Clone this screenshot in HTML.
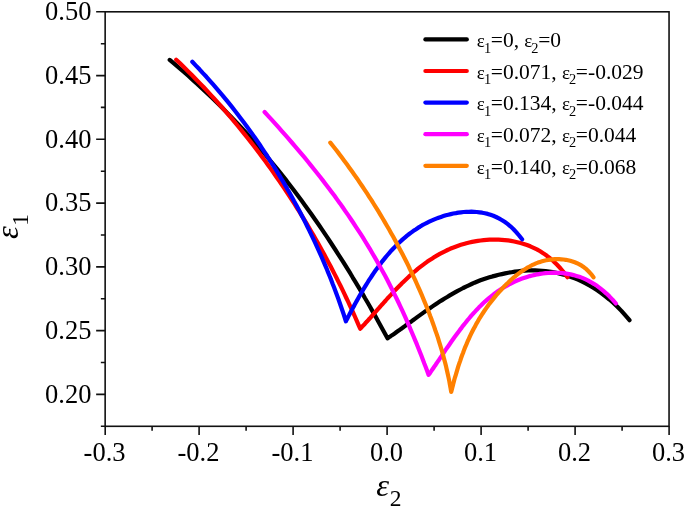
<!DOCTYPE html>
<html><head><meta charset="utf-8"><title>FLD</title>
<style>html,body{margin:0;padding:0;background:#fff}svg{display:block}text{font-family:"Liberation Serif","DejaVu Serif",serif;fill:#000}</style></head><body>
<svg width="685" height="508" viewBox="0 0 685 508">
<rect width="685" height="508" fill="#fff"/>
<g fill="none" stroke-width="4.2" stroke-linecap="round" stroke-linejoin="round">
<path stroke="#000000" d="M169.7,59.9 L174.5,63.9 L179.2,68.0 L183.9,72.0 L188.5,76.0 L193.0,80.1 L197.5,84.1 L201.8,88.1 L206.1,92.2 L210.4,96.2 L214.6,100.2 L218.7,104.3 L222.7,108.3 L226.7,112.4 L230.7,116.4 L234.5,120.4 L238.4,124.5 L242.1,128.5 L245.8,132.5 L249.5,136.6 L253.1,140.6 L256.7,144.6 L260.2,148.7 L263.7,152.7 L267.1,156.7 L270.4,160.8 L273.8,164.8 L277.1,168.8 L280.3,172.9 L283.5,176.9 L286.7,180.9 L289.8,185.0 L292.9,189.0 L295.9,193.0 L298.9,197.1 L301.9,201.1 L304.9,205.2 L307.8,209.2 L310.7,213.2 L313.5,217.3 L316.3,221.3 L319.1,225.3 L321.9,229.4 L324.6,233.4 L327.3,237.4 L330.0,241.5 L332.6,245.5 L335.2,249.5 L337.8,253.6 L340.4,257.6 L343.0,261.6 L345.5,265.7 L348.0,269.7 L350.5,273.7 L352.9,277.8 L355.4,281.8 L357.8,285.8 L360.2,289.9 L362.6,293.9 L364.9,298.0 L367.3,302.0 L369.6,306.0 L371.9,310.1 L374.2,314.1 L376.4,318.1 L378.7,322.2 L380.9,326.2 L383.1,330.2 L385.3,334.3 L387.5,338.3 L387.8,338.1 L388.3,337.8 L389.0,337.3 L389.8,336.8 L390.7,336.1 L391.7,335.4 L392.8,334.7 L394.0,333.9 L395.3,333.0 L396.6,332.0 L398.0,331.0 L399.5,330.0 L401.0,328.9 L402.6,327.8 L404.2,326.6 L405.9,325.3 L407.7,324.1 L409.5,322.7 L411.4,321.4 L413.3,320.0 L415.2,318.6 L417.2,317.1 L419.3,315.6 L421.4,314.1 L423.5,312.6 L425.7,311.1 L427.9,309.5 L430.2,308.0 L432.5,306.4 L434.9,304.8 L437.2,303.2 L439.7,301.6 L442.1,300.1 L444.6,298.5 L447.2,297.0 L449.8,295.4 L452.4,293.9 L455.0,292.4 L457.7,290.9 L460.4,289.5 L463.2,288.0 L466.0,286.6 L468.8,285.3 L471.6,284.0 L474.5,282.7 L477.4,281.5 L480.4,280.3 L483.4,279.2 L486.4,278.2 L489.4,277.3 L492.5,276.4 L495.6,275.6 L498.7,274.8 L501.9,274.1 L505.1,273.4 L508.3,272.7 L511.5,272.2 L514.8,271.7 L518.1,271.3 L521.5,270.9 L524.8,270.7 L528.2,270.5 L531.6,270.4 L535.1,270.4 L538.5,270.6 L542.0,270.8 L545.6,271.1 L549.1,271.5 L552.7,272.1 L556.3,272.8 L559.9,273.7 L563.6,274.6 L567.3,275.8 L571.0,277.0 L574.7,278.4 L578.5,279.9 L582.2,281.7 L586.1,283.6 L589.9,285.7 L593.7,288.0 L597.6,290.5 L601.5,293.3 L605.4,296.3 L609.4,299.5 L613.4,303.0 L617.4,306.8 L621.4,310.9 L625.4,315.4 L629.5,320.2"/>
<path stroke="#ff0000" d="M176.2,59.7 L180.3,63.6 L184.3,67.5 L188.2,71.4 L192.1,75.3 L195.9,79.2 L199.7,83.1 L203.5,87.0 L207.1,90.9 L210.7,94.8 L214.3,98.7 L217.8,102.6 L221.3,106.5 L224.7,110.4 L228.1,114.3 L231.4,118.2 L234.7,122.1 L237.9,126.0 L241.1,129.9 L244.3,133.8 L247.4,137.7 L250.5,141.6 L253.5,145.5 L256.5,149.4 L259.4,153.3 L262.3,157.2 L265.2,161.1 L268.0,165.0 L270.8,168.9 L273.6,172.8 L276.3,176.7 L279.0,180.6 L281.7,184.5 L284.3,188.4 L286.9,192.3 L289.4,196.1 L292.0,200.0 L294.5,203.9 L296.9,207.8 L299.4,211.7 L301.8,215.6 L304.2,219.5 L306.5,223.4 L308.8,227.3 L311.1,231.2 L313.4,235.1 L315.6,239.0 L317.8,242.9 L320.0,246.8 L322.2,250.7 L324.3,254.6 L326.4,258.5 L328.5,262.4 L330.6,266.3 L332.6,270.2 L334.6,274.1 L336.6,278.0 L338.5,281.9 L340.5,285.8 L342.4,289.7 L344.3,293.6 L346.1,297.5 L348.0,301.4 L349.8,305.3 L351.6,309.2 L353.4,313.1 L355.1,317.0 L356.8,320.9 L358.5,324.8 L360.2,328.7 L360.4,328.4 L360.9,328.0 L361.5,327.4 L362.2,326.6 L363.0,325.8 L363.8,324.9 L364.8,323.9 L365.8,322.7 L366.9,321.6 L368.0,320.3 L369.2,319.0 L370.5,317.6 L371.8,316.1 L373.1,314.6 L374.5,313.0 L376.0,311.4 L377.5,309.7 L379.1,307.9 L380.6,306.1 L382.3,304.3 L384.0,302.4 L385.7,300.5 L387.4,298.5 L389.2,296.6 L391.1,294.6 L392.9,292.6 L394.8,290.6 L396.8,288.5 L398.8,286.5 L400.8,284.5 L402.8,282.4 L404.9,280.4 L407.0,278.4 L409.1,276.4 L411.3,274.5 L413.5,272.5 L415.8,270.6 L418.0,268.7 L420.3,266.9 L422.7,265.1 L425.0,263.4 L427.4,261.6 L429.8,260.0 L432.3,258.4 L434.7,256.8 L437.2,255.4 L439.8,253.9 L442.3,252.6 L444.9,251.3 L447.5,250.0 L450.1,248.8 L452.8,247.7 L455.5,246.7 L458.2,245.7 L460.9,244.8 L463.7,244.0 L466.4,243.2 L469.3,242.5 L472.1,241.9 L474.9,241.4 L477.8,240.9 L480.7,240.5 L483.7,240.1 L486.6,239.9 L489.6,239.7 L492.6,239.6 L495.6,239.6 L498.6,239.7 L501.7,239.8 L504.8,240.1 L507.9,240.4 L511.0,240.9 L514.2,241.5 L517.4,242.2 L520.6,243.0 L523.8,243.9 L527.0,245.0 L530.3,246.3 L533.6,247.8 L536.9,249.4 L540.2,251.3 L543.5,253.4 L546.9,255.8 L550.3,258.5 L553.7,261.4 L557.1,264.8 L560.6,268.5 L564.0,272.6 L567.5,277.2"/>
<path stroke="#0000ff" d="M192.3,61.8 L195.9,65.6 L199.5,69.3 L202.9,73.1 L206.4,76.8 L209.7,80.6 L213.1,84.4 L216.3,88.1 L219.5,91.9 L222.7,95.6 L225.8,99.4 L228.9,103.2 L231.9,106.9 L234.9,110.7 L237.8,114.5 L240.6,118.2 L243.5,122.0 L246.3,125.7 L249.0,129.5 L251.7,133.3 L254.4,137.0 L257.0,140.8 L259.6,144.5 L262.1,148.3 L264.6,152.1 L267.1,155.8 L269.5,159.6 L271.9,163.3 L274.3,167.1 L276.6,170.9 L278.9,174.6 L281.1,178.4 L283.4,182.1 L285.6,185.9 L287.7,189.7 L289.9,193.4 L292.0,197.2 L294.0,201.0 L296.1,204.7 L298.1,208.5 L300.1,212.2 L302.0,216.0 L304.0,219.8 L305.9,223.5 L307.7,227.3 L309.6,231.0 L311.4,234.8 L313.2,238.6 L315.0,242.3 L316.7,246.1 L318.4,249.8 L320.1,253.6 L321.8,257.4 L323.4,261.1 L325.0,264.9 L326.6,268.6 L328.1,272.4 L329.7,276.2 L331.2,279.9 L332.6,283.7 L334.1,287.5 L335.5,291.2 L336.9,295.0 L338.3,298.7 L339.6,302.5 L340.9,306.3 L342.2,310.0 L343.5,313.8 L344.7,317.5 L345.9,321.3 L346.1,320.9 L346.5,320.1 L347.0,319.2 L347.6,318.0 L348.2,316.7 L349.0,315.3 L349.8,313.8 L350.6,312.1 L351.6,310.4 L352.5,308.6 L353.6,306.7 L354.6,304.7 L355.7,302.7 L356.9,300.6 L358.1,298.5 L359.3,296.3 L360.6,294.1 L361.9,291.8 L363.3,289.5 L364.7,287.2 L366.1,284.9 L367.6,282.5 L369.0,280.2 L370.6,277.8 L372.1,275.5 L373.7,273.1 L375.3,270.8 L377.0,268.5 L378.7,266.2 L380.4,263.9 L382.1,261.6 L383.9,259.4 L385.7,257.1 L387.5,255.0 L389.4,252.8 L391.2,250.7 L393.1,248.7 L395.1,246.7 L397.0,244.7 L399.0,242.8 L401.0,240.9 L403.0,239.1 L405.1,237.3 L407.1,235.6 L409.2,234.0 L411.4,232.4 L413.5,230.8 L415.7,229.4 L417.9,227.9 L420.1,226.6 L422.3,225.2 L424.6,224.0 L426.9,222.8 L429.2,221.7 L431.5,220.6 L433.8,219.6 L436.2,218.6 L438.6,217.7 L441.0,216.9 L443.4,216.1 L445.9,215.3 L448.3,214.7 L450.8,214.1 L453.3,213.5 L455.9,213.1 L458.4,212.6 L461.0,212.3 L463.6,212.0 L466.2,211.9 L468.8,211.8 L471.4,211.7 L474.1,211.8 L476.8,212.0 L479.5,212.3 L482.2,212.7 L484.9,213.2 L487.7,213.9 L490.5,214.8 L493.3,215.8 L496.1,217.0 L498.9,218.4 L501.7,220.0 L504.6,221.8 L507.5,223.9 L510.4,226.3 L513.3,229.0 L516.2,232.1 L519.1,235.5 L522.1,239.3"/>
<path stroke="#ff00ff" d="M264.6,112.0 L268.1,115.8 L271.6,119.6 L275.0,123.4 L278.4,127.2 L281.8,131.1 L285.2,134.9 L288.5,138.7 L291.8,142.5 L295.1,146.3 L298.3,150.1 L301.5,153.9 L304.7,157.7 L307.8,161.5 L310.9,165.3 L314.0,169.2 L317.0,173.0 L320.0,176.8 L323.0,180.6 L325.9,184.4 L328.8,188.2 L331.6,192.0 L334.5,195.8 L337.2,199.6 L340.0,203.4 L342.7,207.3 L345.3,211.1 L348.0,214.9 L350.6,218.7 L353.1,222.5 L355.6,226.3 L358.1,230.1 L360.6,233.9 L363.0,237.7 L365.3,241.5 L367.7,245.4 L370.0,249.2 L372.2,253.0 L374.5,256.8 L376.7,260.6 L378.8,264.4 L380.9,268.2 L383.0,272.0 L385.1,275.8 L387.1,279.6 L389.1,283.5 L391.0,287.3 L392.9,291.1 L394.8,294.9 L396.7,298.7 L398.5,302.5 L400.3,306.3 L402.1,310.1 L403.8,313.9 L405.5,317.7 L407.2,321.6 L408.9,325.4 L410.5,329.2 L412.1,333.0 L413.7,336.8 L415.3,340.6 L416.9,344.4 L418.4,348.2 L419.9,352.0 L421.4,355.8 L422.9,359.7 L424.3,363.5 L425.8,367.3 L427.2,371.1 L428.6,374.9 L428.8,374.6 L429.2,374.0 L429.8,373.3 L430.4,372.4 L431.1,371.4 L431.9,370.2 L432.7,369.0 L433.6,367.7 L434.6,366.2 L435.7,364.7 L436.7,363.1 L437.9,361.4 L439.1,359.7 L440.3,357.9 L441.6,356.0 L442.9,354.0 L444.2,352.0 L445.6,349.9 L447.1,347.8 L448.6,345.7 L450.1,343.5 L451.6,341.3 L453.2,339.0 L454.8,336.8 L456.5,334.5 L458.2,332.2 L459.9,329.9 L461.7,327.6 L463.4,325.3 L465.3,323.0 L467.1,320.7 L469.0,318.5 L470.9,316.2 L472.8,314.0 L474.8,311.9 L476.8,309.7 L478.8,307.6 L480.9,305.6 L482.9,303.6 L485.0,301.6 L487.2,299.7 L489.3,297.9 L491.5,296.1 L493.7,294.3 L495.9,292.7 L498.2,291.0 L500.5,289.5 L502.8,288.0 L505.1,286.6 L507.5,285.3 L509.8,284.0 L512.2,282.8 L514.7,281.6 L517.1,280.5 L519.6,279.5 L522.1,278.6 L524.6,277.7 L527.1,276.9 L529.7,276.1 L532.3,275.5 L534.9,274.9 L537.5,274.3 L540.1,273.9 L542.8,273.5 L545.5,273.2 L548.2,273.0 L550.9,272.8 L553.7,272.7 L556.5,272.8 L559.2,272.9 L562.1,273.1 L564.9,273.4 L567.7,273.9 L570.6,274.4 L573.5,275.1 L576.4,275.9 L579.3,276.8 L582.3,277.9 L585.2,279.2 L588.2,280.6 L591.2,282.3 L594.2,284.1 L597.3,286.1 L600.3,288.4 L603.4,290.9 L606.5,293.6 L609.6,296.6 L612.8,299.9 L615.9,303.5"/>
<path stroke="#ff8000" d="M330.3,142.6 L333.2,146.2 L336.0,149.8 L338.8,153.4 L341.5,157.1 L344.2,160.7 L346.9,164.3 L349.5,167.9 L352.1,171.5 L354.6,175.1 L357.2,178.7 L359.6,182.3 L362.1,186.0 L364.5,189.6 L366.9,193.2 L369.2,196.8 L371.6,200.4 L373.8,204.0 L376.1,207.6 L378.3,211.2 L380.5,214.9 L382.7,218.5 L384.8,222.1 L386.9,225.7 L389.0,229.3 L391.0,232.9 L393.1,236.5 L395.1,240.2 L397.0,243.8 L398.9,247.4 L400.8,251.0 L402.7,254.6 L404.6,258.2 L406.4,261.8 L408.2,265.4 L409.9,269.1 L411.7,272.7 L413.4,276.3 L415.1,279.9 L416.7,283.5 L418.3,287.1 L419.9,290.7 L421.5,294.3 L423.0,298.0 L424.5,301.6 L426.0,305.2 L427.4,308.8 L428.9,312.4 L430.2,316.0 L431.6,319.6 L432.9,323.3 L434.2,326.9 L435.4,330.5 L436.7,334.1 L437.9,337.7 L439.0,341.3 L440.1,344.9 L441.2,348.5 L442.3,352.2 L443.3,355.8 L444.2,359.4 L445.2,363.0 L446.1,366.6 L446.9,370.2 L447.7,373.8 L448.5,377.4 L449.3,381.1 L449.9,384.7 L450.6,388.3 L451.2,391.9 L451.4,391.2 L451.7,390.0 L452.1,388.4 L452.6,386.5 L453.1,384.4 L453.7,382.2 L454.3,379.8 L455.0,377.3 L455.8,374.8 L456.6,372.1 L457.4,369.4 L458.2,366.6 L459.1,363.9 L460.1,361.1 L461.0,358.3 L462.0,355.5 L463.1,352.7 L464.1,349.9 L465.2,347.1 L466.4,344.4 L467.5,341.7 L468.7,339.1 L469.9,336.4 L471.1,333.9 L472.4,331.3 L473.7,328.8 L475.0,326.4 L476.3,323.9 L477.7,321.6 L479.0,319.2 L480.5,316.9 L481.9,314.7 L483.3,312.5 L484.8,310.3 L486.3,308.1 L487.8,306.0 L489.3,303.9 L490.9,301.9 L492.5,299.9 L494.1,297.9 L495.7,295.9 L497.3,294.0 L499.0,292.1 L500.7,290.3 L502.4,288.4 L504.1,286.6 L505.8,284.9 L507.6,283.2 L509.3,281.5 L511.1,279.8 L512.9,278.2 L514.8,276.7 L516.6,275.2 L518.5,273.7 L520.3,272.3 L522.2,271.0 L524.1,269.7 L526.1,268.5 L528.0,267.3 L530.0,266.3 L531.9,265.2 L533.9,264.3 L535.9,263.4 L538.0,262.6 L540.0,261.9 L542.1,261.3 L544.1,260.7 L546.2,260.3 L548.3,259.9 L550.5,259.6 L552.6,259.4 L554.7,259.2 L556.9,259.2 L559.1,259.2 L561.3,259.3 L563.5,259.5 L565.7,259.8 L568.0,260.3 L570.2,260.8 L572.5,261.5 L574.8,262.3 L577.0,263.2 L579.4,264.4 L581.7,265.7 L584.0,267.3 L586.4,269.2 L588.7,271.5 L591.1,274.1 L593.5,277.3"/>
</g>
<g stroke="#111" stroke-width="1.6" fill="none" stroke-linecap="butt">
<rect x="105.15" y="11.8" width="563.9" height="414.5"/>
<path d="M105.2,426.3v8.7M152.1,426.3v4.4M199.1,426.3v8.7M246.1,426.3v4.4M293.1,426.3v8.7M340.1,426.3v4.4M387.1,426.3v8.7M434.1,426.3v4.4M481.1,426.3v8.7M528.1,426.3v4.4M575.1,426.3v8.7M622.1,426.3v4.4M669.1,426.3v8.7M105.15,11.8h-9.0M105.15,43.7h-4.3M105.15,75.6h-9.0M105.15,107.4h-4.3M105.15,139.3h-9.0M105.15,171.2h-4.3M105.15,203.1h-9.0M105.15,235.0h-4.3M105.15,266.9h-9.0M105.15,298.7h-4.3M105.15,330.6h-9.0M105.15,362.5h-4.3M105.15,394.4h-9.0M105.15,426.3h-4.3"/>
</g>
<g font-size="26.5">
<text x="104.6" y="460.7" text-anchor="middle">-0.3</text>
<text x="198.5" y="460.7" text-anchor="middle">-0.2</text>
<text x="292.5" y="460.7" text-anchor="middle">-0.1</text>
<text x="386.5" y="460.7" text-anchor="middle">0.0</text>
<text x="480.5" y="460.7" text-anchor="middle">0.1</text>
<text x="574.5" y="460.7" text-anchor="middle">0.2</text>
<text x="668.5" y="460.7" text-anchor="middle">0.3</text>
<text x="91.4" y="20.1" text-anchor="end">0.50</text>
<text x="91.4" y="83.9" text-anchor="end">0.45</text>
<text x="91.4" y="147.6" text-anchor="end">0.40</text>
<text x="91.4" y="211.4" text-anchor="end">0.35</text>
<text x="91.4" y="275.2" text-anchor="end">0.30</text>
<text x="91.4" y="338.9" text-anchor="end">0.25</text>
<text x="91.4" y="402.7" text-anchor="end">0.20</text>
</g>
<text x="376.3" y="495.9" font-size="32.5" font-style="italic">ε<tspan x="389.8" font-size="23.5" font-style="normal" dy="9.6">2</tspan></text>
<text transform="translate(17.8,238.9) rotate(-90)" font-size="32.5" font-style="italic">ε<tspan x="13.1" font-size="23.5" font-style="normal" dy="10.1">1</tspan></text>
<line x1="425.4" x2="466.8" y1="39.4" y2="39.4" stroke="#000000" stroke-width="4.2" stroke-linecap="round"/>
<text x="476.8" y="47.2" font-size="21.5"><tspan font-size="19">ε</tspan><tspan font-size="14.4" dx="-0.9" dy="5.3">1</tspan><tspan dy="-5.3" dx="-0.3">=0,</tspan><tspan font-size="19" dx="5.2">ε</tspan><tspan font-size="14.4" dx="-0.9" dy="5.3">2</tspan><tspan dy="-5.3" dx="-0.3">=0</tspan></text>
<line x1="425.4" x2="466.8" y1="71.0" y2="71.0" stroke="#ff0000" stroke-width="4.2" stroke-linecap="round"/>
<text x="476.8" y="78.8" font-size="21.5"><tspan font-size="19">ε</tspan><tspan font-size="14.4" dx="-0.9" dy="5.3">1</tspan><tspan dy="-5.3" dx="-0.3">=0.071,</tspan><tspan font-size="19" dx="5.2">ε</tspan><tspan font-size="14.4" dx="-0.9" dy="5.3">2</tspan><tspan dy="-5.3" dx="-0.3">=-0.029</tspan></text>
<line x1="425.4" x2="466.8" y1="102.6" y2="102.6" stroke="#0000ff" stroke-width="4.2" stroke-linecap="round"/>
<text x="476.8" y="110.4" font-size="21.5"><tspan font-size="19">ε</tspan><tspan font-size="14.4" dx="-0.9" dy="5.3">1</tspan><tspan dy="-5.3" dx="-0.3">=0.134,</tspan><tspan font-size="19" dx="5.2">ε</tspan><tspan font-size="14.4" dx="-0.9" dy="5.3">2</tspan><tspan dy="-5.3" dx="-0.3">=-0.044</tspan></text>
<line x1="425.4" x2="466.8" y1="134.2" y2="134.2" stroke="#ff00ff" stroke-width="4.2" stroke-linecap="round"/>
<text x="476.8" y="142.0" font-size="21.5"><tspan font-size="19">ε</tspan><tspan font-size="14.4" dx="-0.9" dy="5.3">1</tspan><tspan dy="-5.3" dx="-0.3">=0.072,</tspan><tspan font-size="19" dx="5.2">ε</tspan><tspan font-size="14.4" dx="-0.9" dy="5.3">2</tspan><tspan dy="-5.3" dx="-0.3">=0.044</tspan></text>
<line x1="425.4" x2="466.8" y1="165.8" y2="165.8" stroke="#ff8000" stroke-width="4.2" stroke-linecap="round"/>
<text x="476.8" y="173.6" font-size="21.5"><tspan font-size="19">ε</tspan><tspan font-size="14.4" dx="-0.9" dy="5.3">1</tspan><tspan dy="-5.3" dx="-0.3">=0.140,</tspan><tspan font-size="19" dx="5.2">ε</tspan><tspan font-size="14.4" dx="-0.9" dy="5.3">2</tspan><tspan dy="-5.3" dx="-0.3">=0.068</tspan></text>
</svg></body></html>
